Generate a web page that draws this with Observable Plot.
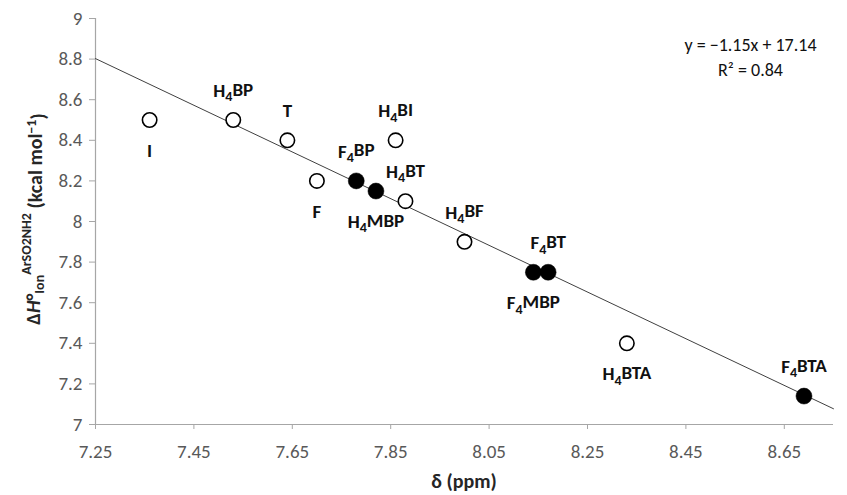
<!DOCTYPE html>
<html>
<head>
<meta charset="utf-8">
<script src="https://cdn.jsdelivr.net/npm/d3@7"></script>
<script src="https://cdn.jsdelivr.net/npm/@observablehq/plot@0.6"></script>
<style>
  html, body { margin: 0; padding: 0; background: #fff; }
  #chart { width: 847px; height: 495px; }
</style>
</head>
<body>
<div id="chart"></div>
<script>
// ---- data ----
const compounds   = ["I", "H4BP", "T", "F", "F4BP", "H4MBP", "H4BI", "H4BT", "H4BF", "F4MBP", "F4BT", "H4BTA", "F4BTA"];
const deltaPpm    = [7.36, 7.53, 7.64, 7.70, 7.78, 7.82, 7.86, 7.88, 8.00, 8.14, 8.17, 8.33, 8.69];
const dHion       = [8.50, 8.50, 8.40, 8.20, 8.20, 8.15, 8.40, 8.10, 7.90, 7.75, 7.75, 7.40, 7.14];
const fluorinated = [false, false, false, false, true, true, false, false, false, true, true, false, true];
const xTicks = [7.25, 7.45, 7.65, 7.85, 8.05, 8.25, 8.45, 8.65];
const xTickLabels = ["7.25", "7.45", "7.65", "7.85", "8.05", "8.25", "8.45", "8.65"];
const yTicks = [7, 7.2, 7.4, 7.6, 7.8, 8, 8.2, 8.4, 8.6, 8.8, 9];
const yTickLabels = ["7", "7.2", "7.4", "7.6", "7.8", "8", "8.2", "8.4", "8.6", "8.8", "9"];
const fitSlope = -1.15;
const fitIntercept = 17.14;
const fitR2 = 0.84;
const xDomain = [7.25, 8.75];
const yDomain = [7, 9];

// ---- build ----
const labelsBelow = new Set(["I", "F", "H4MBP", "F4MBP", "H4BTA"]);
const data = compounds.map((name, i) => ({
  name, x: deltaPpm[i], y: dHion[i], filled: fluorinated[i], below: labelsBelow.has(name)
}));
const fitLine = xDomain.map(x => ({x, y: fitSlope * x + fitIntercept}));

const font = "Carlito, Calibri, Lato, 'Open Sans', sans-serif";
const axisGray = "#a6a6a6";
const textGray = "#595959";
const titleColor = "#262626";

const chart = Plot.plot({
  width: 847,
  height: 495,
  marginLeft: 95,
  marginRight: 14,
  marginTop: 18,
  marginBottom: 71,
  style: { fontFamily: font, fontSize: "19px", background: "#fff", color: textGray },
  x: { domain: xDomain },
  y: { domain: yDomain },
  marks: [
    Plot.axisX({ ticks: xTicks, tickFormat: (d, i) => xTickLabels[i], tickSize: 5, tickPadding: 15,
                 stroke: axisGray, fill: textGray, label: null, fontSize: 19 }),
    Plot.axisY({ ticks: yTicks, tickFormat: (d, i) => yTickLabels[i], tickSize: 6, tickPadding: 7,
                 stroke: axisGray, fill: textGray, label: null, fontSize: 19 }),
    Plot.ruleY([yDomain[0]], { stroke: axisGray, strokeWidth: 1.2 }),
    Plot.ruleX([xDomain[0]], { stroke: axisGray, strokeWidth: 1.2 }),
    Plot.line(fitLine, { x: "x", y: "y", stroke: "#404040", strokeWidth: 1 }),
    Plot.dot(data.filter(d => !d.filled), { x: "x", y: "y", r: 7.2, fill: "#fff", stroke: "#000", strokeWidth: 1.6 }),
    Plot.dot(data.filter(d => d.filled), { x: "x", y: "y", r: 8, fill: "#000", stroke: "#000", strokeWidth: 0.5 }),
    Plot.text(data, { x: "x", y: "y", text: "name", className: "cmpd",
                      fill: "#111", fontWeight: "bold", fontSize: 19,
                      lineAnchor: "middle" }),
    Plot.text([`y = −${Math.abs(fitSlope).toFixed(2)}x + ${fitIntercept.toFixed(2)}`],
              { frameAnchor: "top-right", dx: -83, dy: 27, fill: "#111", fontSize: 18, textAnchor: "middle", lineAnchor: "middle" }),
    Plot.text([`R² = ${fitR2.toFixed(2)}`],
              { frameAnchor: "top-right", dx: -83, dy: 52, fill: "#111", fontSize: 18, textAnchor: "middle", lineAnchor: "middle" })
  ]
});

document.getElementById("chart").appendChild(chart);

const svg = d3.select(chart);

// offset compound labels above / below & add subscripts
svg.selectAll("g.cmpd text").each(function(_, i) {
  const d = data[i];
  const t = d3.select(this);
  const tr = t.attr("transform");
  t.attr("transform", (tr || "") + ` translate(0,${d.below ? 31 : -29})`);
  const name = d.name;
  t.text(null);
  const m = name.match(/^([A-Z])(\d)(.*)$/);
  if (m) {
    t.append("tspan").text(m[1]);
    t.append("tspan").attr("font-size", 14).attr("dy", "0.3em").text(m[2]);
    t.append("tspan").attr("dy", "-0.3em").text(m[3]);
  } else {
    t.append("tspan").text(name);
  }
});

// x axis title
svg.append("text")
  .attr("x", 464).attr("y", 488)
  .attr("text-anchor", "middle")
  .attr("font-family", font).attr("font-size", 20).attr("font-weight", "bold")
  .attr("fill", titleColor)
  .text("δ (ppm)");

// y axis title with sub/superscripts
const yt = svg.append("text")
  .attr("transform", "translate(40,219) rotate(-90)")
  .attr("text-anchor", "middle")
  .attr("font-family", font).attr("font-size", 20).attr("font-weight", "bold")
  .attr("fill", titleColor);
yt.append("tspan").text("Δ");
yt.append("tspan").attr("font-style", "italic").text("H");
yt.append("tspan").text("°");
yt.append("tspan").attr("font-size", 14).attr("dy", "0.3em").text("Ion");
yt.append("tspan").attr("font-size", 14).attr("dy", "-0.95em").text("ArSO2NH2");
yt.append("tspan").attr("dy", "0.55em").text(" (kcal mol");
yt.append("tspan").attr("font-size", 14).attr("dy", "-0.45em").text("−1");
yt.append("tspan").attr("dy", "0.45em").text(")");
</script>
</body>
</html>
